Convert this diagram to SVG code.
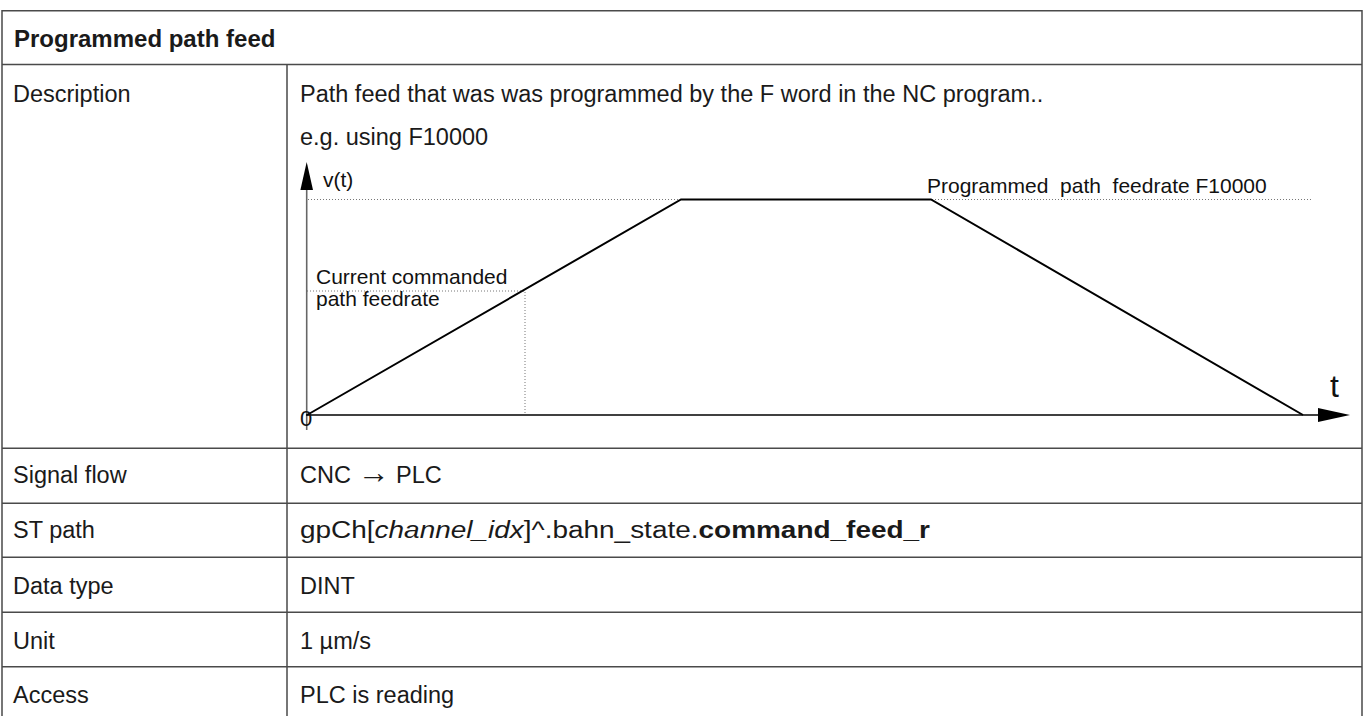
<svg xmlns="http://www.w3.org/2000/svg" width="1368" height="716" viewBox="0 0 1368 716">
<defs>
<style>
.grid{stroke:#4a4a4a;stroke-width:1.5;fill:none}
.t{font-family:"Liberation Sans",Arial,sans-serif;font-size:23.5px;fill:#1a1a1a}
.b{font-weight:bold;font-size:24px}
.c{font-family:"Liberation Sans",Arial,sans-serif;font-size:21px;fill:#111}
.big{font-size:32px}
.zero{font-size:22px}
.arr{font-size:32px}
.dot{stroke:#777;stroke-width:1;stroke-dasharray:1 2;fill:none}
.curve{stroke:#000;stroke-width:2;fill:none}
</style>
</defs>
<rect width="1368" height="716" fill="#fff"/>
<g id="table">
<path class="grid" d="M2,716 V10.7 H1362 V716 M2,64.5 H1362 M287,64.5 V716 M2,448.3 H1362 M2,503.3 H1362 M2,557.3 H1362 M2,612.3 H1362 M2,666.7 H1362"/>
</g>
<g id="header"><text class="t b" x="14" y="46.5">Programmed path feed</text></g>
<g id="row-description">
<text class="t" x="13" y="101.5">Description</text>
<text class="t" x="300" y="101.5">Path feed that was was programmed by the F word in the NC program..</text>
<text class="t" x="300" y="145">e.g. using F10000</text>
</g>
<g id="chart">
<line class="dot" x1="308" y1="199.5" x2="1312" y2="199.5"/>
<polyline class="dot" points="307,291 525,291 525,415"/>
<line x1="306.7" y1="430" x2="306.7" y2="188" stroke="#666" stroke-width="1.6"/>
<polygon points="306.7,162 313,190 300.4,190" fill="#000"/>
<line x1="306" y1="415" x2="1322" y2="415" stroke="#000" stroke-width="1.6"/>
<polygon points="1350,415 1318,408 1318,422" fill="#000"/>
<polyline class="curve" points="307,415 681,199.5 931,199.5 1303,415"/>
<text class="c" x="323" y="187">v(t)</text>
<text class="c" x="927" y="193" xml:space="preserve">Programmed  path  feedrate F10000</text>
<text class="c" x="316" y="284">Current commanded</text>
<text class="c" x="316" y="306">path feedrate</text>
<text class="c big" x="1330" y="397">t</text>
<text class="c zero" x="306" y="426" text-anchor="middle">0</text>
</g>
<g id="row-signal"><text class="t" x="13" y="483">Signal flow</text><text class="t" x="300" y="483">CNC <tspan class="arr">→</tspan><tspan> PLC</tspan></text></g>
<g id="row-st"><text class="t" x="13" y="538">ST path</text><text class="t" x="300" y="538" textLength="630" lengthAdjust="spacingAndGlyphs">gpCh[<tspan font-style="italic">channel_idx</tspan>]^.bahn_state.<tspan font-weight="bold">command_feed_r</tspan></text></g>
<g id="row-type"><text class="t" x="13" y="594">Data type</text><text class="t" x="300" y="594">DINT</text></g>
<g id="row-unit"><text class="t" x="13" y="649">Unit</text><text class="t" x="300" y="649">1 µm/s</text></g>
<g id="row-access"><text class="t" x="13" y="703">Access</text><text class="t" x="300" y="703">PLC is reading</text></g>
</svg>
